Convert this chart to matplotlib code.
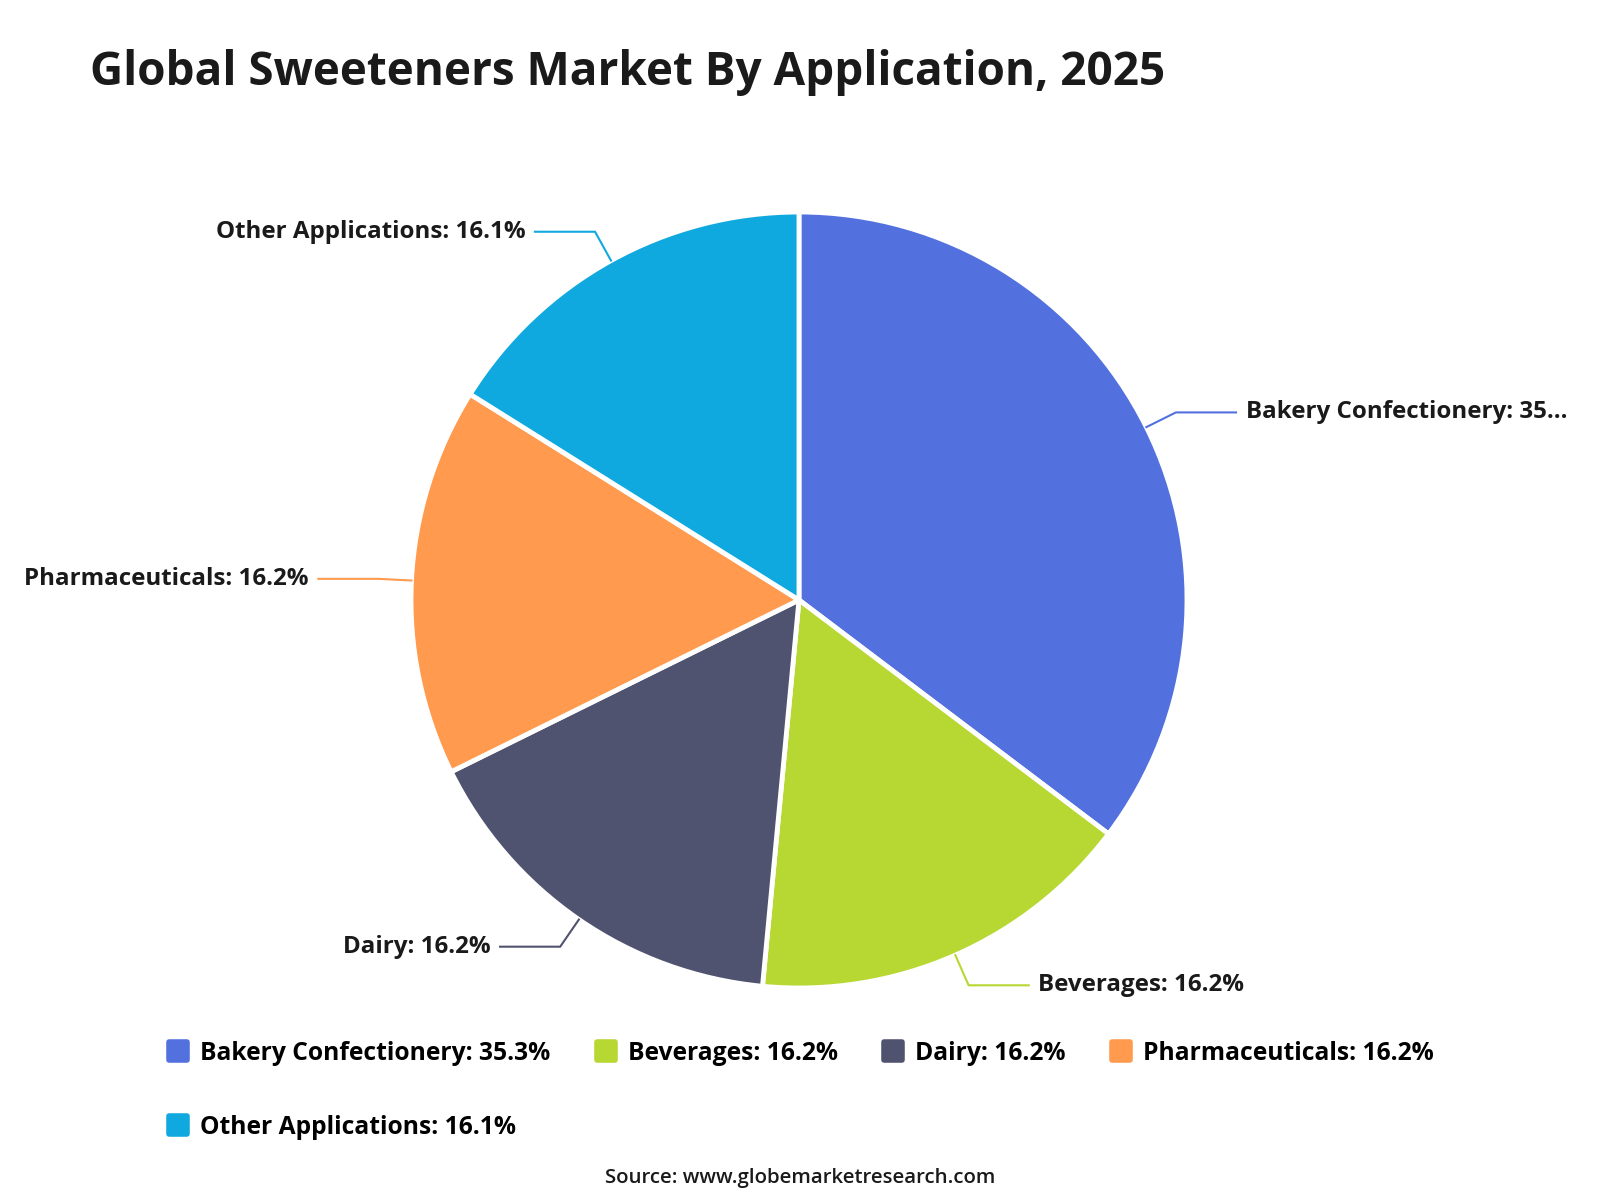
import numpy as np
import matplotlib.pyplot as plt
from matplotlib.lines import Line2D
from matplotlib.markers import MarkerStyle

plt.rcParams['font.family'] = ['Open Sans', 'DejaVu Sans']

# datos
categorias = ['Bakery Confectionery', 'Beverages', 'Dairy', 'Pharmaceuticals', 'Other Applications']
valores = [35.3, 16.2, 16.2, 16.2, 16.1]
etiquetas = ['Bakery Confectionery: 35...', 'Beverages: 16.2%', 'Dairy: 16.2%',
             'Pharmaceuticals: 16.2%', 'Other Applications: 16.1%']
colores = ['#5271DF', '#B7D733', '#505370', '#FF9A4E', '#10A9DF']

W, H = 1600, 1200
fig = plt.figure(figsize=(16, 12), dpi=100)

# centro y radio del pastel en pixeles
cx, cy, R = 799, 600, 388
ax = fig.add_axes([(cx - R) / W, (H - cy - R) / H, 2 * R / W, 2 * R / H])

wedges, _ = ax.pie(valores, colors=colores, startangle=90, counterclock=False,
                   radius=1.0,
                   wedgeprops=dict(edgecolor='white', linewidth=3.5, joinstyle='round'))
ax.set_xlim(-1, 1)
ax.set_ylim(-1, 1)
ax.set_aspect('equal')
ax.axis('off')

# etiquetas con lineas guia
for w, txt, col in zip(wedges, etiquetas, colores):
    ang = np.deg2rad((w.theta1 + w.theta2) / 2)
    x0, y0 = np.cos(ang) * 1.0, np.sin(ang) * 1.0
    x1, y1 = np.cos(ang) * 1.085, np.sin(ang) * 1.085
    lado = 1 if x1 >= 0 else -1
    x2 = x1 + lado * 0.155
    ax.plot([x0, x1, x2], [y0, y1, y1], color=col, lw=1.5, clip_on=False)
    ax.text(x2 + lado * 0.025, y1, txt, ha='left' if lado > 0 else 'right',
            va='center', fontsize=17.4, fontweight='bold', color='#1a1a1a')

fig.text(90 / W, 1 - 72 / H, 'Global Sweeteners Market By Application, 2025',
         fontsize=33, fontweight='bold', color='#1a1a1a', ha='left', va='center')

# orden por columnas para que la leyenda se lea por filas
orden = [0, 4, 1, 2, 3]
marcador = MarkerStyle('s', joinstyle='round')
handles = [Line2D([0], [0], marker=marcador, color='none', markerfacecolor=colores[i],
                  markeredgecolor=colores[i], markersize=13, markeredgewidth=4)
           for i in orden]
leg_labels = [f'{categorias[i]}: {valores[i]}%' for i in orden]
fig.legend(handles, leg_labels, loc='upper left', bbox_to_anchor=(157 / W, 1 - 1031 / H),
           ncol=4, frameon=False, prop=dict(size=17.7, weight='bold'),
           handletextpad=0.45, columnspacing=1.8, labelspacing=2.0,
           handlelength=0.9, borderaxespad=0)

fig.text(0.5, 1 - 1178 / H, 'Source: www.globemarketresearch.com', ha='center',
         va='center', fontsize=14.7, fontweight='semibold', color='#1a1a1a')

fig.savefig('out.png', dpi=100, facecolor='white')
